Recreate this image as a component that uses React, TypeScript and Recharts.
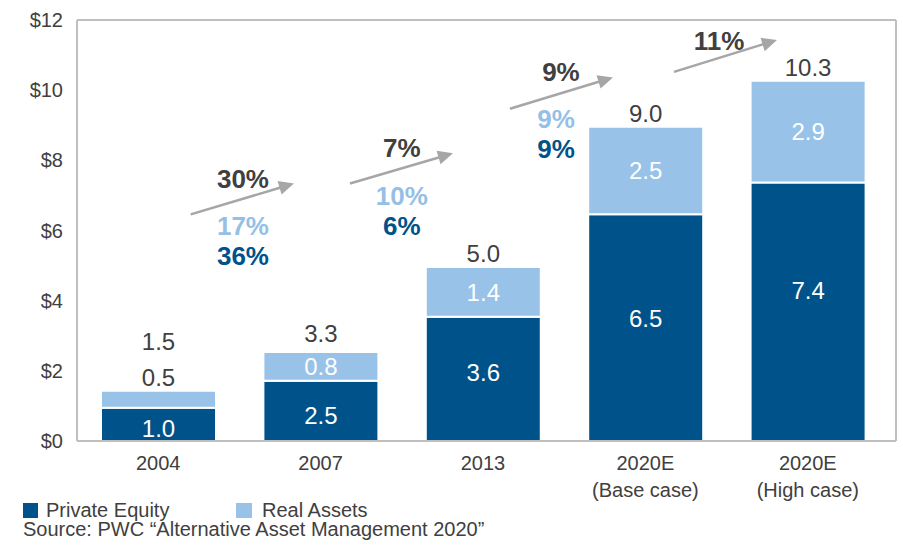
import React from 'react';
import { BarChart, Bar, XAxis, YAxis, LabelList, ReferenceLine, ReferenceDot, Legend } from 'recharts';

const categories = ['2004', '2007', '2013', '2020E\n(Base case)', '2020E\n(High case)'];
const privateEquity = [0.95, 1.72, 3.54, 6.46, 7.37];
const realAssets = [0.48, 0.82, 1.42, 2.5, 2.9];
const peLabels = ['1.0', '2.5', '3.6', '6.5', '7.4'];
const raLabels = ['0.5', '0.8', '1.4', '2.5', '2.9'];
const totalLabels = ['1.5', '3.3', '5.0', '9.0', '10.3'];
const yTicks = [0, 2, 4, 6, 8, 10, 12];
const seriesNames = ['Private Equity', 'Real Assets'];

// growth arrows, in (category position 0..5, value) coordinates
const growthArrows = [
  { x1: 0.70, y1: 6.46, x2: 1.336, y2: 7.34 },
  { x1: 1.681, y1: 7.34, x2: 2.315, y2: 8.2 },
  { x1: 2.666, y1: 9.47, x2: 3.3, y2: 10.36 },
  { x1: 3.676, y1: 10.52, x2: 4.31, y2: 11.43 },
];
// growth rates: total / real assets / private equity
const growthLabels = [
  { x: 1.022, y: 7.49, text: '30%', tone: 'total' },
  { x: 1.022, y: 6.13, text: '17%', tone: 'ra' },
  { x: 1.022, y: 5.27, text: '36%', tone: 'pe' },
  { x: 2.0, y: 8.35, text: '7%', tone: 'total' },
  { x: 2.0, y: 6.99, text: '10%', tone: 'ra' },
  { x: 2.0, y: 6.13, text: '6%', tone: 'pe' },
  { x: 2.98, y: 10.53, text: '9%', tone: 'total' },
  { x: 2.95, y: 9.18, text: '9%', tone: 'ra' },
  { x: 2.95, y: 8.32, text: '9%', tone: 'pe' },
  { x: 3.953, y: 11.41, text: '11%', tone: 'total' },
];

// label fine placement (px)
const peLabelShift = [4, 5, -7, -9, -21];
const totalLift = [49, 19, 14, 13, 13];

const PE_COLOR = '#00538A';
const RA_COLOR = '#99C2E8';
const TEXT = '#404040';
const FRAME = '#BFBFBF';
const ARROW = '#A6A6A6';
const FONT = '"Liberation Sans", Arial, Helvetica, sans-serif';

const toneColor: Record<string, string> = { total: TEXT, ra: '#95BFE6', pe: PE_COLOR };

const data = categories.map((cat, i) => ({
  cat,
  pe: privateEquity[i],
  ra: realAssets[i],
}));

const XTick = (props: any) => {
  const { x, y, payload } = props;
  const lines = String(payload.value).split('\n');
  return (
    <text x={x} y={y} textAnchor="middle" fill={TEXT} fontSize={20} fontFamily={FONT}>
      {lines.map((l, i) => (
        <tspan key={i} x={x} dy={i === 0 ? 21 : 27}>
          {l}
        </tspan>
      ))}
    </text>
  );
};

const PeLabel = (props: any) => {
  const { x, y, width, height, index } = props;
  const cx = x + width / 2;
  const cy = y + height / 2 + peLabelShift[index];
  return (
    <text x={cx} y={cy} dy="0.36em" textAnchor="middle" fill="#FFFFFF" fontSize={24} fontFamily={FONT}>
      {peLabels[index]}
    </text>
  );
};

const RaLabel = (props: any) => {
  const { x, y, width, height, index } = props;
  const cx = x + width / 2;
  const inside = height >= 22;
  return (
    <g>
      {inside ? (
        <text x={cx} y={y + height / 2} dy="0.36em" textAnchor="middle" fill="#FFFFFF" fontSize={24} fontFamily={FONT}>
          {raLabels[index]}
        </text>
      ) : (
        <text x={cx} y={y - 13} dy="0.36em" textAnchor="middle" fill={TEXT} fontSize={24} fontFamily={FONT}>
          {raLabels[index]}
        </text>
      )}
      <text x={cx} y={y - totalLift[index]} dy="0.36em" textAnchor="middle" fill={TEXT} fontSize={24} fontFamily={FONT}>
        {totalLabels[index]}
      </text>
    </g>
  );
};

const ArrowShape = (props: any) => {
  const { x1, y1, x2, y2 } = props;
  if ([x1, y1, x2, y2].some((v) => typeof v !== 'number' || isNaN(v))) return null;
  const dx = x2 - x1;
  const dy = y2 - y1;
  const len = Math.sqrt(dx * dx + dy * dy);
  const ux = dx / len;
  const uy = dy / len;
  const headLen = 15;
  const headHalf = 7;
  const bx = x2 - ux * headLen;
  const by = y2 - uy * headLen;
  const px = -uy;
  const py = ux;
  const pts = `${x2},${y2} ${bx + px * headHalf},${by + py * headHalf} ${bx - px * headHalf},${by - py * headHalf}`;
  return (
    <g>
      <line x1={x1} y1={y1} x2={bx + ux * 2} y2={by + uy * 2} stroke={ARROW} strokeWidth={2.5} />
      <polygon points={pts} fill={ARROW} />
    </g>
  );
};

const renderLegend = () => (
  <svg width={903} height={49} style={{ display: 'block' }}>
    <rect x={23} y={3} width={15} height={15} fill={PE_COLOR} />
    <text x={46} y={17} fill={TEXT} fontSize={20} fontFamily={FONT}>
      {seriesNames[0]}
    </text>
    <rect x={236} y={3} width={16} height={15} fill={RA_COLOR} />
    <text x={262} y={17} fill={TEXT} fontSize={20} fontFamily={FONT}>
      {seriesNames[1]}
    </text>
    <text x={23} y={35.5} fill={TEXT} fontSize={20} fontFamily={FONT}>
      Source: PWC “Alternative Asset Management 2020”
    </text>
  </svg>
);

export default function App() {
  return (
    <div style={{ position: 'absolute', left: 0, top: 0, width: 903, height: 549, background: '#fff', fontFamily: FONT }}>
      <BarChart width={903} height={549} data={data} margin={{ top: 19, right: 6, left: 0, bottom: 48 }}>
        <XAxis
          dataKey="cat"
          height={60}
          tick={<XTick />}
          tickLine={false}
          interval={0}
          padding={{ left: 0, right: 7 }}
          axisLine={{ stroke: FRAME, strokeWidth: 2 }}
        />
        <XAxis
          xAxisId="top"
          orientation="top"
          dataKey="cat"
          height={1}
          tick={false}
          tickLine={false}
          axisLine={{ stroke: FRAME, strokeWidth: 2 }}
        />
        <XAxis
          xAxisId="n"
          type="number"
          dataKey="pe"
          domain={[0, 5]}
          allowDataOverflow
          hide
          padding={{ left: 0, right: 7 }}
        />
        <YAxis
          width={77}
          domain={[0, 12]}
          ticks={yTicks}
          interval={0}
          tickFormatter={(v: number) => `$${v}`}
          tick={{ fill: TEXT, fontSize: 20, fontFamily: FONT }}
          tickLine={false}
          tickMargin={8}
          axisLine={{ stroke: FRAME, strokeWidth: 2 }}
        />
        <YAxis
          yAxisId="r"
          orientation="right"
          width={1}
          domain={[0, 12]}
          tick={false}
          tickLine={false}
          axisLine={{ stroke: FRAME, strokeWidth: 2 }}
        />
        <Bar dataKey="pe" name={seriesNames[0]} stackId="a" fill={PE_COLOR} stroke="#FFFFFF" strokeWidth={2} barSize={115} isAnimationActive={false}>
          <LabelList dataKey="pe" content={<PeLabel />} />
        </Bar>
        <Bar dataKey="ra" name={seriesNames[1]} stackId="a" fill={RA_COLOR} stroke="#FFFFFF" strokeWidth={2} barSize={115} isAnimationActive={false}>
          <LabelList dataKey="ra" content={<RaLabel />} />
        </Bar>
        {growthArrows.map((a, i) => (
          <ReferenceLine
            key={`arr${i}`}
            xAxisId="n"
            segment={[
              { x: a.x1, y: a.y1 },
              { x: a.x2, y: a.y2 },
            ]}
            ifOverflow="visible"
            shape={<ArrowShape />}
          />
        ))}
        {growthLabels.map((g, i) => (
          <ReferenceDot
            key={`g${i}`}
            xAxisId="n"
            x={g.x}
            y={g.y}
            r={1}
            ifOverflow="visible"
            shape={(p: any) => (
              <text x={p.cx} y={p.cy} dy="0.36em" textAnchor="middle" fill={toneColor[g.tone]} fontSize={26} fontWeight="bold" fontFamily={FONT}>
                {g.text}
              </text>
            )}
          />
        ))}
        <Legend
          layout="horizontal"
          verticalAlign="middle"
          align="center"
          wrapperStyle={{ left: 0, top: 500, width: 903, height: 49 }}
          content={renderLegend}
        />
      </BarChart>
    </div>
  );
}
